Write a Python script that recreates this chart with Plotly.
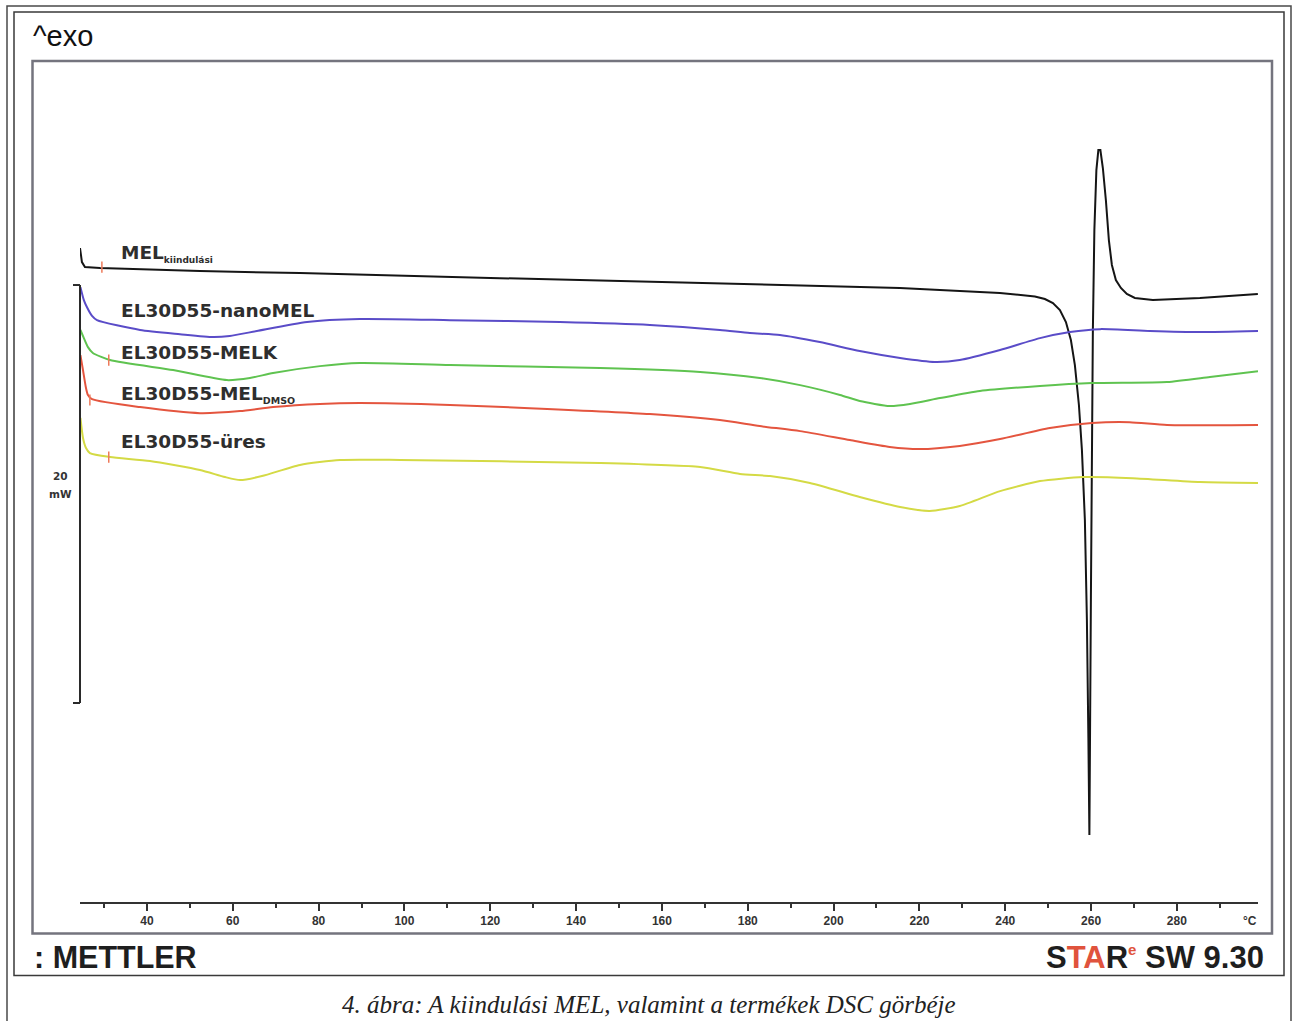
import plotly.graph_objects as go

# ---- DSC curves: temperature (°C) vs. heat flow (mW, stacked offsets) ----
mel_T = [24.4, 24.85, 25.55, 29.05, 52.35, 75.65, 122.25, 168.85, 215.45, 238.76,
         243.42, 246.91, 249.24, 251.11, 252.74, 254.14, 255.30, 256.23, 257.17,
         257.87, 258.56, 259.03, 259.38, 259.61, 259.96, 260.19, 260.42, 260.77,
         261.24, 261.70, 262.17, 262.75, 263.45, 264.15, 264.85, 265.78, 266.95,
         268.34, 270.21, 274.40, 285.36, 298.87]
mel_Q = [31.34, 30.67, 30.43, 30.38, 30.24, 30.14, 29.90, 29.67, 29.43, 29.19,
         29.11, 29.02, 28.90, 28.71, 28.37, 27.80, 26.94, 25.74, 23.83,
         21.67, 18.33, 13.54, 7.80, 3.25, 14.50, 21.67, 27.42, 32.20,
         35.07, 36.03, 36.03, 35.17, 33.64, 31.72, 30.53, 29.81, 29.43,
         29.14, 28.95, 28.85, 28.95, 29.14]

nano_T = [24.5, 25.3, 26.0, 27.2, 28.35, 38.4, 47.7, 55.4, 59.3, 65.6, 77.3, 89.6,
          110.6, 136.2, 157.2, 173.5, 180.5, 187.5, 196.8, 206.1, 215.5, 223.6,
          229.4, 238.8, 248.1, 255.1, 262.1, 273.7, 285.4, 298.9]
nano_Q = [29.47, 28.85, 28.52, 28.09, 27.89, 27.42, 27.22, 27.08, 27.13, 27.37, 27.80, 27.94,
          27.89, 27.80, 27.66, 27.42, 27.27, 27.18, 26.84, 26.41, 26.08, 25.89,
          25.98, 26.46, 27.03, 27.32, 27.46, 27.37, 27.32, 27.37]

melk_T = [24.5, 25.3, 26.25, 27.4, 31.4, 46.1, 58.6, 64.0, 69.4, 80.3, 89.6, 110.6,
          145.6, 168.9, 182.8, 192.2, 201.5, 206.1, 213.1, 217.8, 224.8, 234.1,
          248.1, 260.2, 277.7, 287.7, 298.9]
melk_Q = [27.42, 27.03, 26.60, 26.32, 25.98, 25.50, 25.02, 25.12, 25.36, 25.69, 25.84, 25.74,
          25.60, 25.41, 25.12, 24.78, 24.31, 24.02, 23.78, 23.88, 24.16, 24.50,
          24.74, 24.88, 24.93, 25.17, 25.45]

dmso_T = [24.5, 25.1, 25.8, 26.25, 27.2, 38.4, 52.35, 61.7, 69.4, 80.3, 89.6, 110.6,
          129.2, 157.2, 173.5, 182.8, 192.2, 203.8, 213.1, 220.1, 229.4, 238.8,
          250.4, 260.2, 269.0, 277.7, 298.9]
dmso_Q = [26.22, 25.50, 24.64, 24.31, 24.11, 23.73, 23.44, 23.54, 23.73, 23.88, 23.92, 23.83,
          23.68, 23.40, 23.11, 22.82, 22.58, 22.15, 21.82, 21.72, 21.87, 22.20,
          22.73, 22.97, 23.01, 22.87, 22.87]

ures_T = [24.5, 25.1, 25.8, 26.7, 31.4, 40.7, 52.35, 58.2, 61.7, 66.8, 75.65, 85.0,
          99.0, 145.6, 168.9, 178.2, 185.2, 194.5, 206.1, 215.5, 222.4, 229.4,
          238.8, 248.1, 258.1, 269.7, 285.4, 298.9]
ures_Q = [23.21, 22.25, 21.77, 21.53, 21.34, 21.15, 20.72, 20.38, 20.24, 20.43, 20.96, 21.20,
          21.20, 21.05, 20.86, 20.53, 20.43, 20.10, 19.43, 18.95, 18.76, 19.00,
          19.71, 20.19, 20.38, 20.33, 20.14, 20.10]

# integration limit markers (start / end of evaluation) on each curve
limit_T = [24.2, 29.5, 24.2, 31.1, 24.2, 26.7, 24.2, 31.1]
limit_Q = [30.96, 30.43, 27.37, 25.98, 26.22, 24.07, 23.21, 21.34]

# curve labels
label_texts = ["MEL<sub><span style='font-size:9px'>kiindulási</span></sub>",
               "EL30D55-nanoMEL",
               "EL30D55-MELK",
               "EL30D55-MEL<sub><span style='font-size:9.5px'>DMSO</span></sub>",
               "EL30D55-üres"]
label_Q = [31.1, 28.37, 26.32, 24.35, 22.1]
label_T = 33.5

# 20 mW scale bar
scale_top = 29.57
scale_len = 20.0

x_range = [24.4, 298.9]
y_range = [-1.435, 40.29]

# ---- page geometry (pixels) ----
W, H = 1295, 1021
L, R, T, B = 80, 37, 61, 88
PW, PH = W - L - R, H - T - B


def px(x):
    return (x - L) / PW


def py(y):
    return (H - B - y) / PH


series = [
    (mel_T, mel_Q, "#151515", "linear"),
    (nano_T, nano_Q, "#5a4cc8", "spline"),
    (melk_T, melk_Q, "#5fc350", "spline"),
    (dmso_T, dmso_Q, "#e4553f", "spline"),
    (ures_T, ures_Q, "#d4da45", "spline"),
]

fig = go.Figure()
for xs, ys, col, shape in series:
    fig.add_trace(go.Scatter(x=xs, y=ys, mode="lines",
                             line=dict(color=col, width=2, shape=shape, smoothing=0.6),
                             showlegend=False, hoverinfo="skip"))

fig.add_trace(go.Scatter(x=limit_T, y=limit_Q, mode="markers",
                         marker=dict(symbol="line-ns", size=8, color="#ee7a5a",
                                     line=dict(color="#ee7a5a", width=1.5)),
                         cliponaxis=False, showlegend=False, hoverinfo="skip"))

shapes = [
    # outer page frame
    dict(type="rect", xref="paper", yref="paper", x0=px(7), x1=px(1291), y0=py(1040), y1=py(6),
         line=dict(color="#4a4a4a", width=1.5)),
    # inner frame
    dict(type="rect", xref="paper", yref="paper", x0=px(14), x1=px(1284), y0=py(975.5), y1=py(12),
         line=dict(color="#3a3a3a", width=1.5)),
    # plot box
    dict(type="rect", xref="paper", yref="paper", x0=px(32.5), x1=px(1272), y0=py(933.5), y1=py(61),
         line=dict(color="#74747e", width=2.5)),
    # scale bar
    dict(type="line", xref="paper", yref="y", x0=0, x1=0, y0=scale_top - scale_len, y1=scale_top,
         line=dict(color="#2a2a2a", width=2)),
    dict(type="line", xref="paper", yref="y", x0=px(73), x1=0, y0=scale_top, y1=scale_top,
         line=dict(color="#2a2a2a", width=2)),
    dict(type="line", xref="paper", yref="y", x0=px(73), x1=0, y0=scale_top - scale_len,
         y1=scale_top - scale_len, line=dict(color="#2a2a2a", width=2)),
]

annotations = []
for txt, q in zip(label_texts, label_Q):
    annotations.append(dict(x=label_T, y=q, xref="x", yref="y", text="<b>" + txt + "</b>",
                            showarrow=False, xanchor="left", yanchor="middle",
                            font=dict(family="DejaVu Sans", size=18.5, color="#2e2e2e")))

annotations += [
    dict(x=px(31), y=py(36), xref="paper", yref="paper", text="^exo", showarrow=False,
         xanchor="left", yanchor="middle",
         font=dict(family="Liberation Sans", size=29, color="#111")),
    dict(x=px(60), y=20.43, xref="paper", yref="y", text="<b>20</b>", showarrow=False,
         xanchor="center", yanchor="middle", font=dict(family="DejaVu Sans", size=10.5, color="#333")),
    dict(x=px(60), y=19.57, xref="paper", yref="y", text="<b>mW</b>", showarrow=False,
         xanchor="center", yanchor="middle", font=dict(family="DejaVu Sans", size=10.5, color="#333")),
    dict(x=297.0, y=py(921), xref="x", yref="paper", text="<b>°C</b>", showarrow=False,
         xanchor="center", yanchor="middle", font=dict(family="Liberation Sans", size=12, color="#333")),
    dict(x=px(32), y=py(957), xref="paper", yref="paper", text="<b>: METTLER</b>", showarrow=False,
         xanchor="left", yanchor="middle", font=dict(family="Liberation Sans", size=30.5, color="#1e1e1e")),
    dict(x=px(1266), y=py(957), xref="paper", yref="paper",
         text="<b>S<span style='color:#e0533d'>TA</span>R"
              "<sup><span style='color:#e0533d;font-size:15px'>e</span></sup> SW 9.30</b>",
         showarrow=False, xanchor="right", yanchor="middle",
         font=dict(family="Liberation Sans", size=31, color="#1e1e1e")),
    dict(x=px(649), y=py(1004), xref="paper", yref="paper",
         text="<i>4. ábra: A kiindulási MEL, valamint a termékek DSC görbéje</i>", showarrow=False,
         xanchor="center", yanchor="middle", font=dict(family="Liberation Serif", size=25, color="#222")),
]

fig.update_layout(
    width=W, height=H,
    margin=dict(l=L, r=R, t=T, b=B, pad=0),
    paper_bgcolor="white", plot_bgcolor="white",
    shapes=shapes, annotations=annotations,
    xaxis=dict(range=x_range, anchor="free", position=py(902.7),
               showline=True, linecolor="#333", linewidth=2,
               ticks="outside", ticklen=7, tickwidth=1.5, tickcolor="#333",
               tick0=0, dtick=20, showgrid=False, zeroline=False,
               tickfont=dict(family="Liberation Sans", size=12, color="#333", weight="bold"),
               minor=dict(tick0=0, dtick=10, ticks="outside", ticklen=4, tickwidth=1.5,
                          tickcolor="#333", showgrid=False)),
    yaxis=dict(range=y_range, visible=False, showgrid=False, zeroline=False),
)

fig.write_html("out.html")
